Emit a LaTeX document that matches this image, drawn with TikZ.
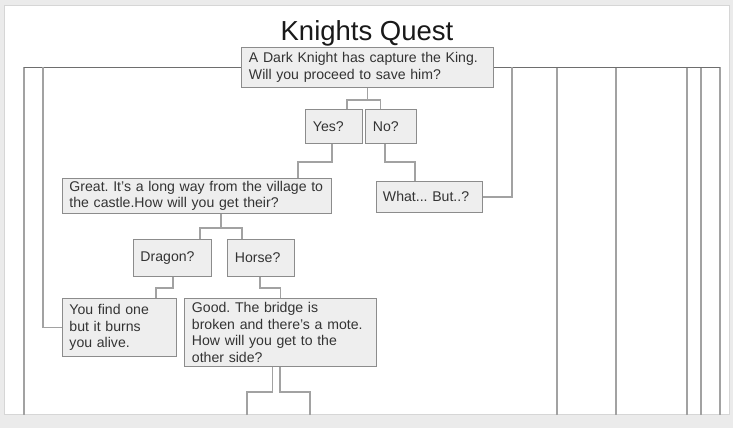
\documentclass[tikz,border=0pt]{standalone}
\usepackage{fontspec}
\setmainfont{Liberation Sans}
\usetikzlibrary{calc}
\frenchspacing
\definecolor{boxfill}{HTML}{EEEEEE}
\definecolor{boxline}{HTML}{8C8C8C}
\definecolor{connc}{HTML}{A2A2A2}
\definecolor{busc}{HTML}{6E6E6E}
\definecolor{txt}{HTML}{333333}
\definecolor{pagebg}{HTML}{EBEBEB}
\definecolor{pageedge}{HTML}{D6D6D6}
\newcommand\bxfont{\frenchspacing\fontsize{14.1}{16.5}\selectfont}
\pgfdeclarelayer{pagelayer}
\pgfdeclarelayer{linelayer}
\pgfsetlayers{pagelayer,linelayer,main}
\tikzset{
  qbox/.style={draw=boxline, fill=boxfill, text=txt, font=\bxfont, align=left,
    inner xsep=7.5pt, inner ysep=1pt, anchor=north west, line width=0.9pt},
  conn/.style={draw=connc, line width=1.2pt},
  busline/.style={draw=busc, line width=1.2pt}
}
\begin{document}
\begin{tikzpicture}[x=1pt,y=-1pt]
\useasboundingbox (0,0) rectangle (733,428);
\begin{pgfonlayer}{pagelayer}
\fill[pagebg] (0,0) rectangle (733,428);
\draw[pageedge, fill=white, line width=1pt] (4,6) rectangle (729.5,414.5);
\end{pgfonlayer}

\node[font=\fontsize{27.5}{32}\selectfont, text=black!90, anchor=base, inner sep=0pt] (title) at (367,41) {Knights Quest};

\node[qbox, text width=237pt, minimum height=40pt] (root) at (241,47)
  {\mbox{A Dark Knight has capture the King.}\\\mbox{Will you proceed to save him?}};
\node[qbox, text width=42pt, minimum height=34pt] (yes) at (305,109) {\mbox{Yes?}};
\node[qbox, text width=36pt, minimum height=34pt] (no) at (365,109) {\mbox{No?}};
\node[qbox, text width=255pt, minimum height=35pt, inner xsep=7pt] (great) at (62,178)
  {\mbox{Great. It’s a long way from the village to}\\\mbox{the castle.How will you get their?}};
\node[qbox, text width=93pt, minimum height=31pt, inner xsep=6.5pt] (what) at (376,181) {\mbox{What... But..?}};
\node[qbox, text width=64pt, minimum height=37pt, inner xsep=7pt] (dragon) at (133,239) {\mbox{Dragon?}};
\node[qbox, text width=52pt, minimum height=37pt] (horse) at (227,239) {\mbox{Horse?}};
\node[qbox, text width=100pt, minimum height=58pt, inner xsep=7pt] (you) at (62,298)
  {\mbox{You find one}\\\mbox{but it burns}\\\mbox{you alive.}};
\node[qbox, text width=177pt, minimum height=68pt] (good) at (184,298)
  {\mbox{Good. The bridge is}\\\mbox{broken and there’s a mote.}\\\mbox{How will you get to the}\\\mbox{other side?}};

\coordinate (b24) at (24,414.5);
\coordinate (c43) at (43,67);
\coordinate (c512) at (512,67);
\coordinate (b557) at (557,414.5);
\coordinate (b616) at (616,414.5);
\coordinate (b687) at (687,414.5);
\coordinate (b701) at (701,414.5);
\coordinate (b720) at (720,414.5);
\coordinate (g1) at (247,414.5);
\coordinate (g2) at (310,414.5);

\begin{pgfonlayer}{linelayer}
% top bus
\draw[conn] (root.west -| b24) -- (b24);
\foreach \b in {b557,b616,b687,b701,b720}{
  \draw[conn] (root.east -| \b) -- (\b);
}
\draw[busline] (root.west) -- (root.west -| b24);
\draw[busline] (root.east) -- (root.east -| b720);
% root to yes / no
\draw[conn] (root.south) -- ++(0,12) coordinate (j1);
\draw[conn] ($(yes.north west)+(42,0)$) |- (j1) -| ($(no.north west)+(15.5,0)$);
% yes to great
\draw[conn] ($(yes.south west)+(27,0)$) -- ++(0,18) -| ($(great.north west)+(236,0)$);
% no to what
\draw[conn] ($(no.south west)+(20,0)$) -- ++(0,18) -| ($(what.north west)+(39,0)$);
% great to dragon / horse
\draw[conn] ($(great.south west)+(159,0)$) -- ++(0,14) coordinate (j2);
\draw[conn] ($(dragon.north west)+(67,0)$) |- (j2) -| ($(horse.north west)+(15,0)$);
% dragon to you
\draw[conn] ($(dragon.south west)+(40,0)$) -- ++(0,11) -| ($(you.north west)+(94,0)$);
% horse to good
\draw[conn] ($(horse.south west)+(33,0)$) -- ++(0,11) -| ($(good.north west)+(96.5,0)$);
% good down
\draw[conn] ($(good.south west)+(88.5,0)$) -- ++(0,25) -| (g1);
\draw[conn] ($(good.south west)+(96,0)$) -- ++(0,25) -| (g2);
% what to bus
\draw[conn] (what.east) -| (c512);
% you to bus
\draw[conn] (you.west) -| (c43);
\end{pgfonlayer}
\end{tikzpicture}
\end{document}
